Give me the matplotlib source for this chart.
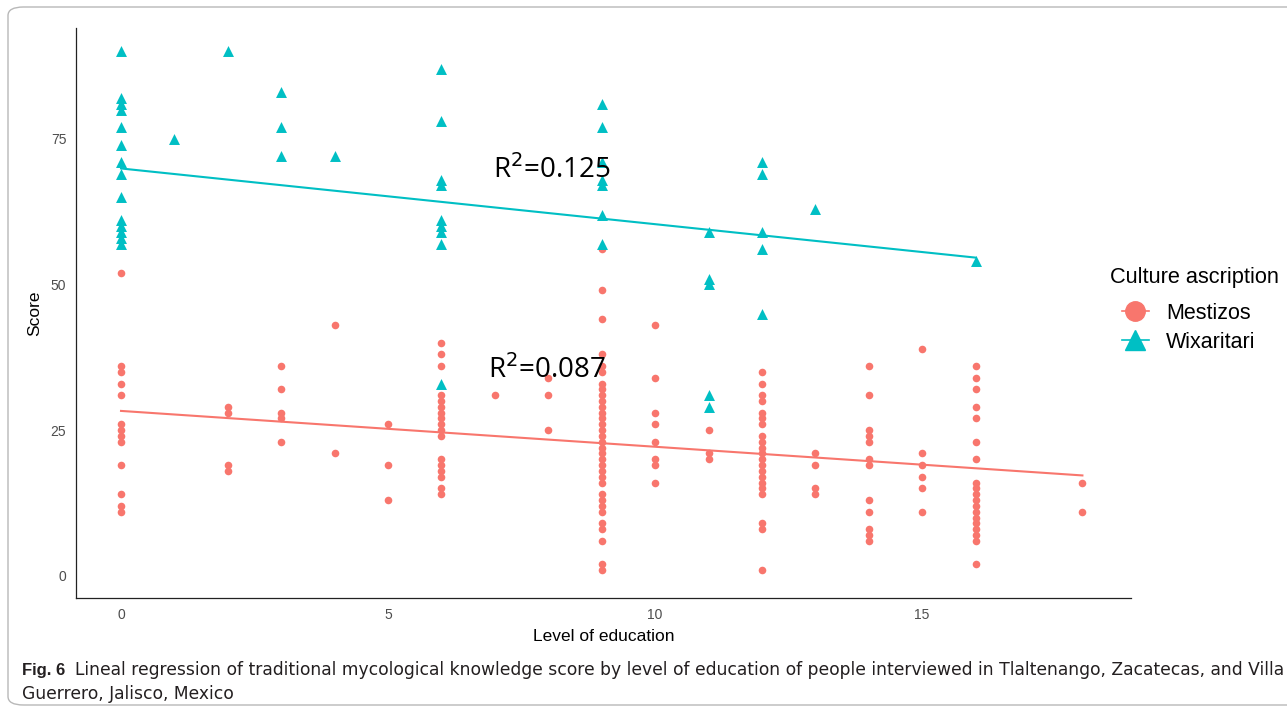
import numpy as np
import matplotlib
matplotlib.use("Agg")
import matplotlib.pyplot as plt
from matplotlib.lines import Line2D
from matplotlib.patches import FancyBboxPatch

# ---------------- data ----------------
mest_levels = [0, 2, 3, 4, 5, 6, 7, 8, 9, 10, 11, 12, 13, 14, 15, 16, 18]
mest_scores = [
    [52, 36, 35, 33, 31, 26, 25, 24, 23, 19, 14, 12, 11],
    [29, 28, 19, 18],
    [36, 32, 28, 27, 23],
    [43, 21],
    [26, 19, 13],
    [40, 38, 36, 31, 30, 29, 28, 27, 26, 25, 24, 20, 19, 18, 17, 15, 14],
    [31],
    [34, 31, 25],
    [56, 49, 44, 38, 36, 35, 33, 32, 31, 30, 29, 28, 27, 26, 25, 24, 23, 22,
     21, 20, 19, 18, 17, 16, 14, 13, 12, 11, 9, 8, 6, 2, 1],
    [43, 34, 28, 26, 23, 20, 19, 16],
    [25, 21, 20],
    [35, 33, 31, 30, 28, 27, 26, 24, 23, 22, 21, 20, 19, 18, 17, 16, 15, 14,
     9, 8, 1],
    [21, 19, 15, 14],
    [36, 31, 25, 24, 23, 20, 19, 13, 11, 8, 7, 6],
    [39, 21, 19, 17, 15, 11],
    [36, 34, 32, 29, 27, 23, 20, 16, 15, 14, 13, 12, 11, 10, 9, 8, 7, 6, 2],
    [16, 11],
]

wix_levels = [0, 1, 2, 3, 4, 6, 9, 11, 12, 13, 16]
wix_scores = [
    [90, 82, 81, 80, 77, 74, 71, 69, 65, 61, 60, 59, 58, 57],
    [75],
    [90],
    [83, 77, 72],
    [72],
    [87, 78, 68, 67, 61, 60, 59, 57, 33],
    [81, 77, 71, 68, 67, 62, 57],
    [59, 51, 50, 31, 29],
    [71, 69, 59, 56, 45],
    [63],
    [54],
]

groups = ["Mestizos", "Wixaritari"]
# fitted regression lines: intercept, slope
fit_intercept = [28.3, 69.9]
fit_slope = [-0.615, -0.956]
r2_labels = ["0.087", "0.125"]
x_ticks = [0, 5, 10, 15]
y_ticks = [0, 25, 50, 75]

caption_bold = "Fig. 6"
caption_text = ("Lineal regression of traditional mycological knowledge score by level of "
                "education of people interviewed in Tlaltenango, Zacatecas, and Villa")
caption_text2 = "Guerrero, Jalisco, Mexico"

# ---------------- styling ----------------
col_m = "#F8766D"
col_w = "#00BFC4"
plt.rcParams["font.family"] = ["Liberation Sans", "DejaVu Sans"]

W, H = 1287, 712
fig = plt.figure(figsize=(W / 100, H / 100), dpi=100)

# border box
fig.patches.append(FancyBboxPatch((8 / W, 7 / H), (W + 20 - 8) / W, (H - 14) / H,
                                  boxstyle="round,pad=0,rounding_size=0.012",
                                  transform=fig.transFigure, fill=False,
                                  edgecolor="#b8b8b8", linewidth=1.0))

ax = fig.add_axes([76 / W, 1 - 598 / H, (1131 - 76) / W, (598 - 28) / H])


def flatten(levels, scores):
    xs, ys = [], []
    for lv, sc in zip(levels, scores):
        xs += [lv] * len(sc)
        ys += sc
    return np.array(xs, float), np.array(ys, float)


mx, my = flatten(mest_levels, mest_scores)
wx, wy = flatten(wix_levels, wix_scores)

ax.scatter(mx, my, s=30, marker="o", color=col_m, linewidths=0, zorder=3)
ax.scatter(wx, wy, s=62, marker="^", color=col_w, linewidths=0, zorder=3)

for xs, a, b, c in [(mx, fit_intercept[0], fit_slope[0], col_m),
                    (wx, fit_intercept[1], fit_slope[1], col_w)]:
    gx = np.linspace(xs.min(), xs.max(), 80)
    ax.plot(gx, a + b * gx, color=c, lw=1.5, zorder=2)

ax.text(6.87, 35.3, "R$^2$=" + r2_labels[0], fontsize=20, va="center", ha="left",
        family=["Open Sans", "DejaVu Sans"], zorder=4)
ax.text(6.97, 69.6, "R$^2$=" + r2_labels[1], fontsize=20, va="center", ha="left",
        family=["Open Sans", "DejaVu Sans"], zorder=4)

ax.set_xlim(-0.843, 18.91)
ax.set_ylim(-3.8, 94.0)
ax.set_xticks(x_ticks)
ax.set_yticks(y_ticks)
ax.tick_params(length=0, labelsize=10, labelcolor="#4d4d4d", pad=7)
for s in ["top", "right"]:
    ax.spines[s].set_visible(False)
for s in ["left", "bottom"]:
    ax.spines[s].set_linewidth(0.9)
    ax.spines[s].set_color("#222222")
ax.set_xlabel("Level of education", fontsize=12.5, labelpad=5)
ax.set_ylabel("Score", fontsize=12.5, labelpad=6)

handles = [Line2D([], [], color=col_m, marker="o", markersize=14, lw=1.2),
           Line2D([], [], color=col_w, marker="^", markersize=15, lw=1.2)]
fig.text(1110 / W, 1 - 278 / H, "Culture ascription", fontsize=15.7,
         va="center", ha="left")
leg = fig.legend(handles, groups, loc="upper left",
                 bbox_to_anchor=(1122 / W, 1 - 303 / H), frameon=False,
                 fontsize=15.5, handlelength=1.25, borderpad=0, borderaxespad=0,
                 handletextpad=0.8, labelspacing=0.36)

# caption
fig.text(22 / W, 1 - 670 / H, caption_bold, fontsize=12, fontweight="bold",
         va="center", ha="left", color="#231f20")
cap1 = fig.text(75 / W, 1 - 670 / H, caption_text, fontsize=12, va="center",
                ha="left", color="#231f20", family=["DejaVu Sans"])
cap2 = fig.text(22 / W, 1 - 694 / H, caption_text2, fontsize=12, va="center",
                ha="left", color="#231f20", family=["DejaVu Sans"])
# fit first caption line to the measured width
fig.canvas.draw()
w = cap1.get_window_extent().width
fs = 12 * (1280 - 75) / w
cap1.set_fontsize(fs)
cap2.set_fontsize(fs)

fig.savefig("out.png", dpi=100)
